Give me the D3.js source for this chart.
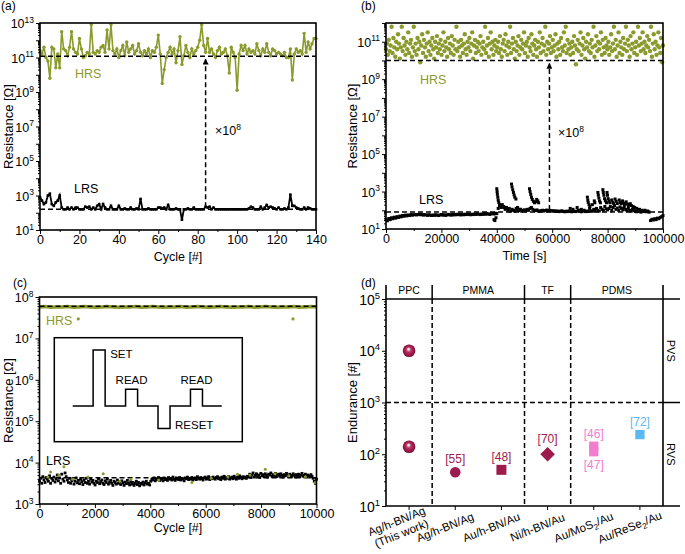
<!DOCTYPE html>
<html><head><meta charset="utf-8">
<script src="https://cdn.jsdelivr.net/npm/d3@7"></script>
<style>body{margin:0;background:#fff}</style>
</head><body><script>
const FONT='"Liberation Sans", Arial, Helvetica, sans-serif';
const OLIVE='#8b9a2c', CRIMSON='#9c1b4c', PINK='#f27dce', BLUE='#5bb8f2';

// ---------------- Panel (a): cycling, 140 cycles ----------------
const cycleTicksA=[0,20,40,60,80,100,120,140];
const cycleMinorA=[10,30,50,70,90,110,130];
const hrsA_log10=[11.4,11.2,11.6,11.0,10.8,9.8,11.6,11.5,10.4,11.2,
10.4,12.5,11.5,11.4,11.1,11.6,12.5,11.5,11.3,11.2,
12.1,11.5,11.0,11.1,11.3,11.2,12.9,11.3,11.2,11.4,
11.3,11.6,11.7,11.3,12.6,11.5,12.9,11.4,11.2,11.5,
11.0,11.4,11.7,11.1,11.9,11.3,11.5,11.7,11.2,11.4,
11.8,11.3,11.1,11.4,11.2,11.5,11.0,11.4,11.3,11.6,
12.3,11.2,9.5,10.3,11.0,11.3,11.6,11.2,11.5,10.7,
11.4,12.2,10.6,11.1,11.7,11.3,11.0,11.5,11.2,11.4,
11.6,12.0,12.9,11.7,11.3,12.1,11.3,11.5,11.2,11.0,
11.4,11.6,11.2,11.3,11.5,11.1,10.1,11.6,11.3,11.0,
9.1,11.2,11.7,11.4,11.7,11.2,11.5,11.3,11.4,11.2,
11.8,11.4,11.1,11.5,11.3,11.8,11.3,11.1,11.5,11.4,
11.2,11.3,11.2,11.1,11.3,11.0,11.0,11.5,9.7,11.2,
11.5,11.3,11.4,11.2,12.4,11.3,11.9,11.5,11.8,12.1,12.1];
const lrsA_log10=[2.9,2.7,2.5,2.6,3.0,3.1,2.5,2.4,2.6,2.7,3.0,2.3,
2.2,2.2,2.3,2.2,2.3,2.2,2.3,2.3,2.2,2.2,2.2,2.35,
2.3,2.35,2.2,2.3,2.2,2.4,2.5,2.2,2.5,2.3,2.2,2.2,
2.4,2.2,2.2,2.2,2.4,2.2,2.2,2.25,2.2,2.2,2.3,2.2,
2.2,2.25,2.2,2.8,2.2,2.2,2.2,2.25,2.2,2.2,2.2,2.2,
2.3,2.3,2.25,2.3,2.2,2.45,2.2,2.2,2.2,2.25,2.2,2.2,
1.6,2.2,2.2,2.25,2.2,2.2,2.3,2.2,2.2,2.2,2.2,2.2,
2.35,2.3,2.35,2.2,2.3,2.2,2.2,2.2,2.2,2.2,2.2,2.2,
2.2,2.2,2.2,2.2,2.2,2.2,2.2,2.2,2.2,2.2,2.25,2.35,
2.3,2.2,2.2,2.2,2.35,2.2,2.3,2.45,2.3,2.35,2.3,2.25,
2.2,2.3,2.2,2.2,2.25,2.2,2.3,3.05,2.4,2.4,2.3,2.25,
2.2,2.2,2.3,2.2,2.3,2.25,2.2,2.2,2.2];
const refHrsA=1.2e11, refLrsA=1.6e2, gapCycleA=84;

// ---------------- Panel (b): retention, 100000 s ----------------
const timeTicksB=[0,20000,40000,60000,80000,100000];
const timeMinorB=[10000,30000,50000,70000,90000];
const timeMaxB=100000;
const hrsB_log10=[10.6,10.9,10.3,11.1,10.5,10.8,11.8,10.4,11.2,10.7,10.2,11.0,10.6,11.4,10.9,10.1,10.7,11.8,10.5,11.2,
10.8,10.3,11.0,10.6,11.5,10.4,10.9,11.1,10.2,10.7,11.8,10.5,10.9,10.3,11.2,10.6,11.0,9.9,10.8,11.4,
10.4,11.1,10.7,10.2,10.9,11.5,10.5,11.0,10.3,10.8,11.2,10.6,10.1,11.0,10.7,11.3,10.4,10.9,10.6,11.1,
10.3,10.8,11.5,10.5,11.0,10.7,10.2,11.2,10.6,10.9,10.4,11.3,10.8,10.3,11.1,10.6,11.8,10.5,11.0,10.7,
10.2,11.1,10.8,10.4,10.9,11.4,10.6,10.3,11.0,10.7,11.2,10.5,10.9,11.5,10.1,10.8,11.1,10.4,10.7,11.0,
10.5,10.9,11.3,10.3,10.7,11.0,10.6,11.8,10.4,10.8,11.2,10.2,10.9,11.5,10.6,11.0,10.3,10.8,11.1,10.5,
10.7,11.0,10.4,11.3,10.6,10.2,10.9,11.1,10.5,11.4,10.8,10.3,11.0,10.7,11.8,10.4,10.9,11.2,10.6,10.1,
11.0,10.5,10.8,11.3,10.3,10.7,11.1,10.6,10.9,11.5,10.4,10.8,11.0,10.2,11.2,10.7,10.5,11.4,10.9,10.3,
10.8,11.1,10.6,10.2,11.0,10.7,11.5,10.4,10.9,11.2,10.5,10.8,11.8,10.3,11.0,10.6,10.9,11.3,10.4,10.7,
11.1,10.5,10.8,11.4,10.2,10.9,10.6,11.0,10.3,11.2,10.7,10.5,11.5,10.8,11.8,10.4,11.1,10.6,10.9,10.3,
10.7,11.0,10.4,11.3,10.8,9.8,10.6,11.1,10.5,10.9,11.5,10.3,10.8,11.2,10.6,10.1,11.0,10.7,11.4,10.5,
10.9,10.4,11.1,10.7,11.8,10.2,10.8,11.3,10.5,11.0,10.6,10.9,11.5,10.3,11.1,10.7,10.4,11.2,10.8,10.6,
11.0,10.3,10.7,11.4,10.5,10.9,11.8,10.6,11.1,10.2,10.8,11.5,10.4,11.0,10.7,10.3,11.2,10.6,10.9,11.8,
10.5,11.1,10.8,10.2,11.3,10.6,10.9,11.5,10.4,10.7,11.0,10.3,11.8,10.8,11.2,10.5,10.9,11.5,10.6,11.0,
10.4,10.8,11.3,10.7,11.1,10.5,11.8,10.2,10.9,11.4,10.6,11.0,10.3,10.8,11.5,10.7,10.4,11.2,9.9,10.8];
const lrsB_log10=[1.5,1.44,1.56,1.5,1.6,1.55,1.63,1.58,1.66,1.62,1.69,1.65,1.72,1.68,1.74,1.7,1.75,1.72,1.77,1.74,1.76,
1.78,1.75,1.77,1.79,1.76,1.78,1.74,1.77,1.75,1.73,1.76,1.74,1.72,1.75,1.73,1.76,1.74,1.72,1.75,1.77,
1.74,1.76,1.73,1.75,1.78,1.76,1.74,1.77,1.75,1.78,1.76,1.79,1.77,1.75,1.78,1.76,1.79,1.77,1.8,1.78,
1.76,1.79,1.77,1.8,1.78,1.81,1.79,1.77,1.8,1.78,1.81,1.79,1.82,1.8,1.78,1.81,1.83,1.8,1.84,1.82,
2.1,2.25,2.15,2.3,2.2,2.05,2.15,2.0,2.1,1.95,
2.05,2.0,1.95,2.1,2.0,1.98,2.05,1.95,2.0,2.02,
1.97,2.05,2.0,2.1,2.15,2.05,2.0,1.98,2.02,1.96,
1.95,1.98,2.0,1.96,1.99,2.01,1.97,2.0,1.96,1.98,
1.95,1.97,1.94,1.96,1.93,1.95,1.97,1.94,1.92,1.95,
1.93,1.96,1.94,1.92,2.05,1.95,1.93,1.96,2.0,1.94,
1.92,1.95,2.0,1.93,1.96,1.94,2.1,1.97,1.95,2.05,
1.98,2.1,2.0,1.96,2.15,2.05,2.0,2.2,2.08,2.02,
2.1,2.2,2.0,2.15,2.25,2.05,2.12,2.0,2.18,2.1,
2.02,2.15,2.05,1.98,2.1,2.0,1.95,2.05,1.98,1.95,
1.92,2.0,1.95,1.9,1.97,1.93,1.96,1.92,1.95,1.9,
1.45,1.52,1.48,1.55,1.5,1.58,1.55,1.62,1.66,1.72];
const lrsB_spikes=[[39000,1.5],[39300,1.45],[39700,1.6],
[40000,3.15],[40100,3.0],[40200,2.85],[40350,2.7],[40500,2.55],[40700,2.42],[41000,2.3],
[41800,2.2],[42500,2.15],[43200,2.1],
[45300,3.4],[45500,3.25],[45750,3.1],[46000,2.95],[46250,2.82],[46500,2.7],[46900,2.6],
[47500,2.15],[48500,2.05],
[51800,3.15],[52000,3.0],[52250,2.85],[52500,2.7],[52800,2.58],[53200,2.48],[53600,2.4],[54000,2.45],[54400,2.58],[54800,2.5],[55100,2.4],
[66500,2.1],[69000,2.15],[70500,2.05],
[72700,2.7],[72850,2.55],[73000,2.42],[73300,2.3],[73600,2.2],
[74500,2.3],[75200,2.5],[75400,2.4],
[76500,2.95],[76650,2.8],[76850,2.65],[77100,2.5],[77400,2.4],
[78300,3.1],[78450,2.95],[78650,2.8],[78900,2.62],[79200,2.5],[79600,2.4],
[79800,2.95],[79950,2.8],[80200,2.62],[80500,2.5],[80800,2.4],
[81500,2.55],[81900,2.42],[82200,2.35],[82700,2.6],[83100,2.48],[83500,2.36],
[84200,2.55],[84600,2.42],[84900,2.35],[85400,2.5],[85800,2.38],[86100,2.3],
[86700,2.45],[87200,2.33],[87500,2.25],[88200,2.35],[88600,2.25],[89200,2.2],[89800,2.15],[90500,2.1],
[91500,2.05],[92500,2.0],[93500,2.0],[94500,1.95]];
const refHrsB=1e10, refLrsB=80, gapTimeB=59000;

// ---------------- Panel (c): endurance 10000 cycles ----------------
const cycleTicksC=[0,2000,4000,6000,8000,10000];
const cycleMinorC=[1000,3000,5000,7000,9000];
const cycleMaxC=10000;
const hrsC_log10=[7.76,7.77,7.75,7.76,7.76,7.77,7.75,7.76,7.77,7.76,7.75,7.76,7.77,7.76,7.75,7.76,7.76,7.77,7.75,7.76,
7.77,7.76,7.75,7.76,7.76,7.77,7.75,7.76,7.77,7.76,7.75,7.76,7.77,7.76,7.75,7.76,7.76,7.77,7.75,7.76,
7.77,7.76,7.75,7.76,7.76,7.77,7.75,7.76,7.77,7.76];
const hrsC_outliers=[[1400,7.47],[9150,7.47]];
const lrsC_log10=[3.55,3.62,3.5,3.66,3.58,3.52,3.64,3.6,3.55,3.68,3.5,3.62,3.57,3.65,3.53,3.6,3.7,3.56,3.63,3.5,3.72,3.6,3.55,3.75,3.66,
3.58,3.52,3.62,3.5,3.56,3.6,3.48,3.55,3.63,3.51,3.57,3.49,3.6,3.54,3.47,3.58,3.52,3.62,3.5,3.55,3.48,3.6,3.53,3.57,3.5,3.46,3.55,3.52,3.6,3.49,3.54,3.58,3.5,3.47,3.56,3.52,3.6,3.48,3.53,3.57,3.5,3.45,3.55,3.52,3.48,3.58,3.5,3.54,3.47,3.56,3.51,3.45,3.53,3.49,3.57,3.5,3.46,3.54,3.48,3.52,3.45,3.5,3.55,3.47,3.52,3.44,3.5,3.48,3.53,3.46,3.51,3.55,3.48,3.5,3.46,
3.55,3.6,3.58,3.63,3.56,3.61,3.59,3.64,3.57,3.62,3.6,3.56,3.63,3.59,3.61,3.57,3.64,3.6,3.62,3.58,3.65,3.6,3.57,3.63,3.61,3.59,3.64,3.58,3.62,3.6,3.56,3.63,3.61,3.65,3.59,3.62,3.6,3.64,3.58,3.61,3.63,3.59,3.66,3.62,3.6,3.64,3.61,3.58,3.63,3.65,3.6,3.62,3.66,3.59,3.63,3.61,3.65,3.62,3.6,3.64,3.66,3.61,3.63,3.59,3.65,3.62,3.67,3.6,3.64,3.62,3.66,3.6,3.63,3.65,3.61,3.67,3.63,3.6,3.65,3.62,3.68,3.64,3.61,3.66,3.63,3.65,3.62,3.67,
3.66,3.72,3.64,3.7,3.75,3.65,3.69,3.73,3.66,3.7,3.64,3.74,3.68,3.71,3.66,3.73,3.69,3.65,3.72,3.7,3.75,3.67,3.71,3.68,3.74,3.66,3.7,3.72,3.67,3.73,3.69,3.65,3.71,3.68,3.74,3.7,3.66,3.72,3.69,3.67,3.73,3.7,3.65,3.71,3.68,3.72,3.66,3.7,3.74,3.67,3.69,3.72,3.66,3.7,3.68,3.65,3.71,3.67,3.62,3.55,3.5,3.6];
const lrsC_olive=[[300,3.65],[400,3.77],[700,3.7],[880,3.9],[1200,3.6],[1750,3.65],[2300,3.73],[2900,3.55],[3300,3.6],[4300,3.58],
[5500,3.52],[6200,3.62],[6800,3.65],[7150,3.72],[7600,3.7],[8150,3.84],[8500,3.73],[9000,3.68],[9600,3.66],[9950,3.52]];
const refHrsC=6e7, refLrsC=4300;
// inset pulse scheme (time units, relative level)
const pulseTime=[0,1.7,1.7,2.7,2.7,4.4,4.4,5.4,5.4,7.1,7.1,8.1,8.1,9.8,9.8,10.8,10.8,12.4];
const pulseLevel=[0,0,1,1,0,0,0.3,0.3,0,0,-0.4,-0.4,0,0,0.3,0.3,0,0];

// ---------------- Panel (d): comparison ----------------
const devices=[['Ag/h-BN/Ag','(This work)'],['Ag/h-BN/Ag'],['Au/h-BN/Au'],['Ni/h-BN/Au'],['Au/MoS|2|/Au'],['Au/ReSe|2|/Au']];
const groupNames=['PPC','PMMA','TF','PDMS'];
const groupSizes=[1,2,1,2];
const endDevice=[0,0,1,2,3,4,4,5];
const endValue=[1e4,140,45,50,100,143,112,240];
const endShape=['sphere','sphere','circle','square','diamond','square','square','square'];
const endColor=[CRIMSON,CRIMSON,CRIMSON,CRIMSON,CRIMSON,PINK,PINK,BLUE];
const endRef=['','','[55]','[48]','[70]','[46]','[47]','[72]'];
const endRefPos=['','','above','above','above','above','below','above'];
const regimeSplit=1e3;

// ================= drawing =================
const svg=d3.select('body').append('svg').attr('width',685).attr('height',554)
  .style('font-family',FONT);
const defs=svg.append('defs');
defs.append('marker').attr('id','arr').attr('viewBox','0 0 10 10').attr('refX',9).attr('refY',5)
  .attr('markerWidth',4).attr('markerHeight',4).attr('orient','auto-start-reverse')
  .append('path').attr('d','M0,0L10,5L0,10z').attr('fill','#000');
const gr=defs.append('radialGradient').attr('id','sph').attr('cx','50%').attr('cy','50%').attr('r','50%').attr('fx','45%').attr('fy','35%');
gr.append('stop').attr('offset','0%').attr('stop-color','#ffffff');
gr.append('stop').attr('offset','14%').attr('stop-color','#f2c6d8');
gr.append('stop').attr('offset','40%').attr('stop-color','#b4325f');
gr.append('stop').attr('offset','75%').attr('stop-color','#9c1a4c');
gr.append('stop').attr('offset','100%').attr('stop-color','#7a0d37');

function supText(sel,base,exp,fs){
  sel.append('tspan').text(base);
  sel.append('tspan').attr('dy',-fs*0.42).attr('font-size',fs*0.68).text(exp);
}
function logLeftAxis(g,y,x0,eMin,eMax,every,fs){
  const majors=d3.range(eMin,eMax+1).map(e=>Math.pow(10,e));
  const minors=[];for(let e=eMin;e<eMax;e++)for(let m=2;m<=9;m++)minors.push(m*Math.pow(10,e));
  g.append('g').attr('transform',`translate(${x0},0)`)
    .call(d3.axisLeft(y).tickValues(minors).tickSize(2).tickFormat(''))
    .call(s=>s.select('.domain').remove());
  const mj=g.append('g').attr('transform',`translate(${x0},0)`)
    .call(d3.axisLeft(y).tickValues(majors).tickSize(4).tickFormat(''))
    .call(s=>s.select('.domain').remove());
  mj.selectAll('.tick').each(function(d){
    const e=Math.round(Math.log10(d));
    if((e-eMin)%every!==0)return;
    const t=d3.select(this).append('text').attr('x',-6).attr('y',fs*0.36).attr('text-anchor','end')
      .attr('fill','#000').attr('font-size',fs).attr('font-family',FONT);
    supText(t,'10',e,fs);
  });
}
function linBottomAxis(g,x,y1,majors,minors,fmt){
  g.append('g').attr('transform',`translate(0,${y1})`)
    .call(d3.axisBottom(x).tickValues(minors).tickSize(2).tickFormat(''))
    .call(s=>s.select('.domain').remove());
  const a=g.append('g').attr('transform',`translate(0,${y1})`)
    .call(d3.axisBottom(x).tickValues(majors).tickSize(4).tickFormat(fmt));
  a.select('.domain').remove();
  a.selectAll('text').attr('font-size',12.5).attr('font-family',FONT).attr('y',13.5).attr('dy',0);
}
function frame(g,p){
  g.append('rect').attr('x',p.x0).attr('y',p.y0).attr('width',p.x1-p.x0).attr('height',p.y1-p.y0)
    .attr('fill','none').attr('stroke','#000').attr('stroke-width',1.6);
}
function hline(g,x0,x1,y,dash){
  return g.append('line').attr('x1',x0).attr('x2',x1).attr('y1',y).attr('y2',y).attr('stroke','#000')
    .attr('stroke-width',1.5).attr('stroke-dasharray',dash?'5,3':null);
}
function vline(g,x,y0,y1,dash){
  return g.append('line').attr('x1',x).attr('x2',x).attr('y1',y0).attr('y2',y1).attr('stroke','#000')
    .attr('stroke-width',1.5).attr('stroke-dasharray',dash?'5,3':null);
}
function txt(g,x,y,s,opt={}){
  return g.append('text').attr('x',x).attr('y',y).attr('font-size',opt.fs||12.5)
    .attr('fill',opt.fill||'#000').attr('text-anchor',opt.anchor||'start').text(s);
}
function yTitle(g,x,cy,s){
  g.append('text').attr('transform',`translate(${x},${cy}) rotate(-90)`).attr('text-anchor','middle')
    .attr('font-size',13).text(s);
}

// ---- (a)
{
const P={x0:40,x1:316,y0:23,y1:230};
const g=svg.append('g');
const x=d3.scaleLinear().domain([0,140]).range([P.x0,P.x1]);
const y=d3.scaleLog().domain([1e1,1e13]).range([P.y1,P.y0]);
const line=d3.line().x((d,i)=>x(i)).y(d=>y(10**d));
g.append('path').datum(hrsA_log10).attr('d',line).attr('fill','none').attr('stroke',OLIVE).attr('stroke-width',1.6);
g.selectAll('.ha').data(hrsA_log10).join('circle').attr('cx',(d,i)=>x(i)).attr('cy',d=>y(10**d)).attr('r',1.7).attr('fill',OLIVE);
g.append('path').datum(lrsA_log10).attr('d',line).attr('fill','none').attr('stroke','#000').attr('stroke-width',1.8);
g.selectAll('.la').data(lrsA_log10).join('rect').attr('x',(d,i)=>x(i)-1.3).attr('y',d=>y(10**d)-1.3).attr('width',2.6).attr('height',2.6).attr('fill','#000');
hline(g,P.x0,P.x1,y(refHrsA),true);
hline(g,P.x0,P.x1,y(refLrsA),true);
vline(g,x(gapCycleA),y(refLrsA)-2,y(refHrsA)+3,true).attr('marker-end','url(#arr)');
logLeftAxis(g,y,P.x0,1,13,2,12.5);
linBottomAxis(g,x,P.y1,cycleTicksA,cycleMinorA,d3.format('d'));
frame(g,P);
txt(g,75,78,'HRS',{fill:OLIVE});
txt(g,74,192.5,'LRS');
const t=txt(g,215,135,'');supText(t,'\u00d710','8',12.5);
yTitle(g,13,126.5,'Resistance [\u03a9]');
txt(g,(P.x0+P.x1)/2,261,'Cycle [#]',{anchor:'middle'});
txt(g,1,10,'(a)',{fs:12});
}
// ---- (b)
{
const P={x0:386,x1:663,y0:23,y1:229};
const g=svg.append('g');
const x=d3.scaleLinear().domain([0,timeMaxB]).range([P.x0,P.x1]);
const y=d3.scaleLog().domain([1e1,1e12]).range([P.y1,P.y0]);
const tH=i=>i*timeMaxB/(hrsB_log10.length-1);
const tL=i=>i*timeMaxB/(lrsB_log10.length-1);
g.selectAll('.hb').data(hrsB_log10).join('circle').attr('cx',(d,i)=>x(tH(i))).attr('cy',d=>y(10**d)).attr('r',2.2).attr('fill',OLIVE);
hline(g,P.x0,P.x1,y(refLrsB),true);
g.selectAll('.lb').data(lrsB_log10).join('rect').attr('x',(d,i)=>x(tL(i))-1.5).attr('y',d=>y(10**d)-1.5).attr('width',3).attr('height',3).attr('fill','#000');
g.selectAll('.sb').data(lrsB_spikes).join('rect').attr('x',d=>x(d[0])-1.5).attr('y',d=>y(10**d[1])-1.5).attr('width',3).attr('height',3).attr('fill','#000');
hline(g,P.x0,P.x1,y(refHrsB),true);
vline(g,x(gapTimeB),y(refLrsB)-2,y(refHrsB)+3,true).attr('marker-end','url(#arr)');
logLeftAxis(g,y,P.x0,1,12,2,12.5);
linBottomAxis(g,x,P.y1,timeTicksB,timeMinorB,d3.format('d'));
frame(g,P);
txt(g,420,83.5,'HRS',{fill:OLIVE});
txt(g,419,204,'LRS');
const t=txt(g,558,137,'');supText(t,'\u00d710','8',12.5);
yTitle(g,357,126,'Resistance [\u03a9]');
txt(g,(P.x0+P.x1)/2,260,'Time [s]',{anchor:'middle'});
txt(g,361,10,'(b)',{fs:12});
}
// ---- (c)
{
const P={x0:39.5,x1:316.5,y0:297,y1:504};
const g=svg.append('g');
const x=d3.scaleLinear().domain([0,cycleMaxC]).range([P.x0,P.x1]);
const y=d3.scaleLog().domain([1e3,1e8]).range([P.y1,P.y0]);
const cH=i=>i*cycleMaxC/(hrsC_log10.length-1);
const cL=i=>i*cycleMaxC/(lrsC_log10.length-1);
g.append('path').datum(hrsC_log10).attr('d',d3.line().x((d,i)=>x(cH(i))).y(d=>y(10**d)))
  .attr('fill','none').attr('stroke',OLIVE).attr('stroke-width',3.5);
g.selectAll('.ho').data(hrsC_outliers).join('circle').attr('cx',d=>x(d[0])).attr('cy',d=>y(10**d[1])).attr('r',1.6).attr('fill',OLIVE);
hline(g,P.x0,P.x1,y(refHrsC),true);
g.selectAll('.lc').data(lrsC_log10).join('rect').attr('x',(d,i)=>x(cL(i))-1.4).attr('y',d=>y(10**d)-1.4).attr('width',2.8).attr('height',2.8).attr('fill','#000');
hline(g,P.x0,P.x1,y(refLrsC),true);
g.selectAll('.lo').data(lrsC_olive).join('circle').attr('cx',d=>x(d[0])).attr('cy',d=>y(10**d[1])).attr('r',1.5).attr('fill',OLIVE);
logLeftAxis(g,y,P.x0,3,8,1,12.5);
linBottomAxis(g,x,P.y1,cycleTicksC,cycleMinorC,d3.format('d'));
frame(g,P);
// inset
g.append('rect').attr('x',54.3).attr('y',337.7).attr('width',188).attr('height',104).attr('fill','none').attr('stroke','#000').attr('stroke-width',1.5);
const wx=d3.scaleLinear().domain([0,12.4]).range([72.7,221.7]);
const wy=d3.scaleLinear().domain([0,1]).range([406,350]);
g.append('path').attr('d',d3.line().x(i=>wx(pulseTime[i])).y(i=>wy(pulseLevel[i]))(d3.range(pulseTime.length)))
  .attr('fill','none').attr('stroke','#000').attr('stroke-width',1.5);
txt(g,wx(2.7)+5,wy(1)+8,'SET',{fs:11.5});
txt(g,wx(4.9),wy(0.3)-5,'READ',{fs:11.5,anchor:'middle'});
txt(g,wx(10.3),wy(0.3)-5,'READ',{fs:11.5,anchor:'middle'});
txt(g,wx(8.1)+5,wy(-0.4)+1,'RESET',{fs:11.5});
txt(g,46,325,'HRS',{fill:OLIVE});
txt(g,46,465,'LRS');
yTitle(g,13,400.5,'Resistance [\u03a9]');
txt(g,(P.x0+P.x1)/2,532,'Cycle [#]',{anchor:'middle'});
txt(g,13,287,'(c)',{fs:12});
}
// ---- (d)
{
const P={x0:386,x1:663,y0:299,y1:506};
const head=285, xr=680;
const g=svg.append('g');
const x=d3.scaleBand().domain(d3.range(devices.length)).range([P.x0,P.x1]);
const cx=i=>x(i)+x.bandwidth()/2;
const y=d3.scaleLog().domain([1e1,1e5]).range([P.y1,P.y0]);
hline(g,P.x0,xr,P.y0,false).attr('stroke-width',1.6);
hline(g,P.x0,xr,P.y1,false).attr('stroke-width',1.6);
vline(g,P.x0,head,P.y1,false).attr('stroke-width',1.6);
vline(g,P.x1,head,P.y1,false).attr('stroke-width',1.6);
hline(g,P.x0,P.x1,y(regimeSplit),true);
hline(g,P.x1,xr,y(regimeSplit),false);
let acc=0;
groupNames.forEach((nm,k)=>{
  const left=x(acc), right=x(acc)+groupSizes[k]*x.bandwidth();
  txt(g,(left+right)/2,293.5,nm,{fs:10.5,anchor:'middle'});
  acc+=groupSizes[k];
  if(acc<devices.length){
    vline(g,right,head,P.y0,false);
    vline(g,right,P.y0,P.y1,true);
  }
});
g.append('text').attr('transform',`translate(667,${(P.y0+y(regimeSplit))/2}) rotate(90)`).attr('text-anchor','middle').attr('font-size',11).text('PVS');
g.append('text').attr('transform',`translate(667,${(y(regimeSplit)+P.y1)/2}) rotate(90)`).attr('text-anchor','middle').attr('font-size',11).text('RVS');
logLeftAxis(g,y,P.x0,1,5,1,14);
g.append('g').attr('transform',`translate(0,${P.y1})`).call(d3.axisBottom(x).tickSize(4).tickFormat(''))
  .call(s=>s.select('.domain').remove());
devices.forEach((lines,i)=>{
  const lg=g.append('g').attr('transform',`translate(${cx(i)-8.6},${P.y1+25}) rotate(-22)`);
  lines.forEach((ln,k)=>{
    const t=lg.append('text').attr('x',0).attr('y',(k-(lines.length-1)/2)*13).attr('text-anchor','middle').attr('font-size',11.5);
    const parts=ln.split('|');
    if(parts.length===1){t.text(ln);}
    else{
      t.append('tspan').text(parts[0]);
      t.append('tspan').attr('dy',3).attr('font-size',8).text(parts[1]);
      t.append('tspan').attr('dy',-3).text(parts[2]);
    }
  });
});
endValue.forEach((v,j)=>{
  const px=cx(endDevice[j]), py=y(v), c=endColor[j], sh=endShape[j];
  let half=5;
  if(sh==='sphere'){half=6.3;g.append('circle').attr('cx',px).attr('cy',py).attr('r',6.3).attr('fill','url(#sph)');}
  else if(sh==='circle'){half=5.3;g.append('circle').attr('cx',px).attr('cy',py).attr('r',5.3).attr('fill',c);}
  else if(sh==='square'){const s=c===CRIMSON?10:9.3;half=s/2;g.append('rect').attr('x',px-s/2).attr('y',py-s/2).attr('width',s).attr('height',s).attr('fill',c);}
  else if(sh==='diamond'){half=7.3;g.append('path').attr('d',`M${px},${py-7.3}L${px+7.3},${py}L${px},${py+7.3}L${px-7.3},${py}Z`).attr('fill',c);}
  if(endRef[j]){
    const ty=endRefPos[j]==='above'? py-half-4 : py+half+12.5;
    txt(g,px,ty,endRef[j],{fs:12,fill:c,anchor:'middle'});
  }
});
yTitle(g,357,y(1e3),'Endurance [#]');
txt(g,361,287,'(d)',{fs:12});
}
</script></body></html>
